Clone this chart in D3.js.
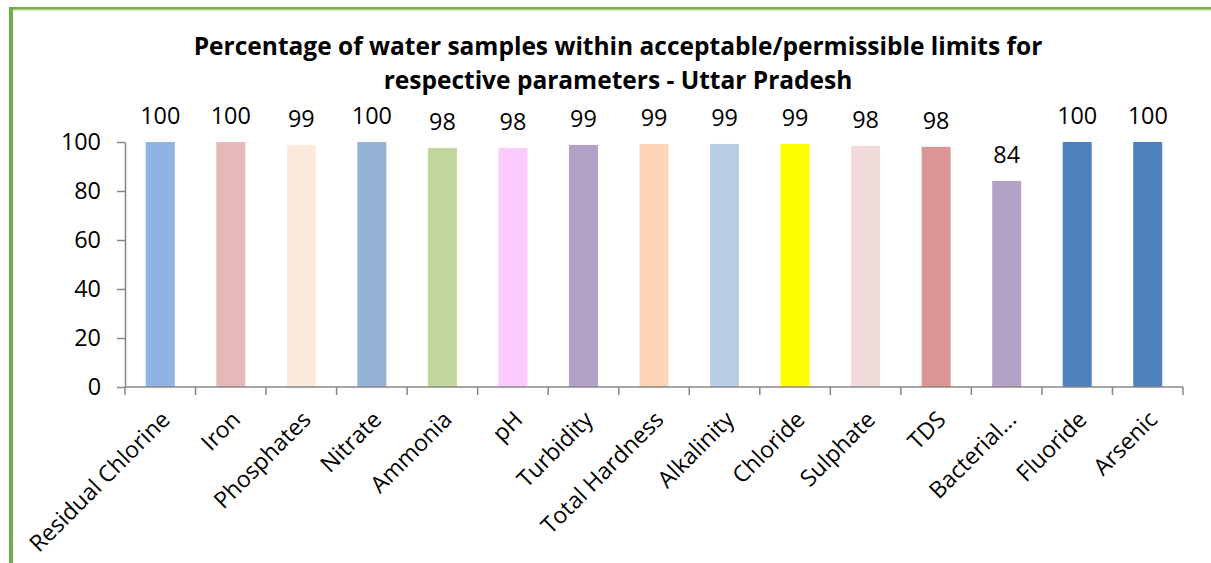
<!DOCTYPE html>
<html>
<head>
<meta charset="utf-8">
<script src="https://cdn.jsdelivr.net/npm/d3@7"></script>
<style>
  html, body { margin: 0; padding: 0; background: #fff; }
  svg { display: block; }
  text { font-family: "Open Sans", sans-serif; fill: #000; }
</style>
</head>
<body>
<svg id="chart" width="1211" height="563"></svg>
<script>
const categories = ["Residual Chlorine", "Iron", "Phosphates", "Nitrate", "Ammonia", "pH", "Turbidity",
  "Total Hardness", "Alkalinity", "Chloride", "Sulphate", "TDS", "Bacterial...", "Fluoride", "Arsenic"];
const values = [100, 100, 98.8, 100, 97.6, 97.6, 98.8, 99.2, 99.2, 99.2, 98.4, 98.0, 84.1, 100, 100];
const labels = [100, 100, 99, 100, 98, 98, 99, 99, 99, 99, 98, 98, 84, 100, 100];
const colors = ["#8EB4E3", "#E6B9B8", "#FDEADA", "#95B3D7", "#C3D69B", "#FCCAFC", "#B3A2C7",
  "#FCD5B5", "#B9CDE5", "#FFFF00", "#F2DCDB", "#D99694", "#B3A2C7", "#4F81BD", "#4F81BD"];
const yTicks = [0, 20, 40, 60, 80, 100];
const titleLines = ["Percentage of water samples within acceptable/permissible limits for",
  "respective parameters - Uttar Pradesh"];

const svg = d3.select("#chart");

// frame border
svg.append("rect").attr("x", 9).attr("y", 7).attr("width", 1202).attr("height", 2.5).attr("fill", "#70AD47");
svg.append("rect").attr("x", 9).attr("y", 9.5).attr("width", 1202).attr("height", 1).attr("fill", "#A9D18E");
svg.append("rect").attr("x", 9).attr("y", 7).attr("width", 4).attr("height", 556).attr("fill", "#70AD47");

const mLeft = 125, mRight = 1183, mTop = 142, mBottom = 387;
const x = d3.scaleBand().domain(categories).range([mLeft, mRight]).paddingInner(0).paddingOuter(0);
const y = d3.scaleLinear().domain([0, 100]).range([mBottom, mTop]);
const barW = 29;

// title
const title = svg.append("g");
title.selectAll("text").data(titleLines).join("text")
  .attr("x", 618).attr("y", (d, i) => 55 + i * 34)
  .attr("text-anchor", "middle")
  .style("font-weight", "bold").style("font-size", "24.5px")
  .text(d => d);

// bars
svg.append("g").selectAll("rect").data(categories).join("rect")
  .attr("x", d => x(d) + x.bandwidth() / 2 - barW / 2)
  .attr("width", barW)
  .attr("y", (d, i) => y(values[i]))
  .attr("height", (d, i) => y(0) - y(values[i]))
  .attr("fill", (d, i) => colors[i]);

// data labels
svg.append("g").selectAll("text").data(categories).join("text")
  .attr("x", d => x(d) + x.bandwidth() / 2)
  .attr("y", (d, i) => y(values[i]) - 18)
  .attr("text-anchor", "middle")
  .style("font-size", "23.4px")
  .text((d, i) => labels[i]);

// y axis
const yAxis = d3.axisLeft(y).tickValues(yTicks).tickSize(8).tickSizeOuter(0).tickPadding(16);
const gy = svg.append("g").attr("transform", `translate(${mLeft},0)`).call(yAxis);
gy.selectAll("path, line").attr("stroke", "#878787").attr("stroke-width", 1.5);
gy.selectAll("text").style("font-size", "23.4px").style("font-family", "'Open Sans', sans-serif").attr("fill", "#000");

// x axis line and ticks at band boundaries
const gx = svg.append("g");
gx.append("line").attr("x1", mLeft).attr("x2", mRight).attr("y1", mBottom).attr("y2", mBottom)
  .attr("stroke", "#878787").attr("stroke-width", 1.5);
const bounds = categories.map(c => x(c)).concat([mRight]);
gx.selectAll("line.tick").data(bounds).join("line").attr("class", "tick")
  .attr("x1", d => d).attr("x2", d => d).attr("y1", mBottom).attr("y2", mBottom + 8)
  .attr("stroke", "#878787").attr("stroke-width", 1.5);

// x labels rotated
gx.selectAll("text").data(categories).join("text")
  .attr("transform", d => `translate(${x(d) + x.bandwidth() / 2 + 11},${mBottom + 34}) rotate(-45)`)
  .attr("text-anchor", "end")
  .style("font-size", "23px")
  .text(d => d);
</script>
</body>
</html>
